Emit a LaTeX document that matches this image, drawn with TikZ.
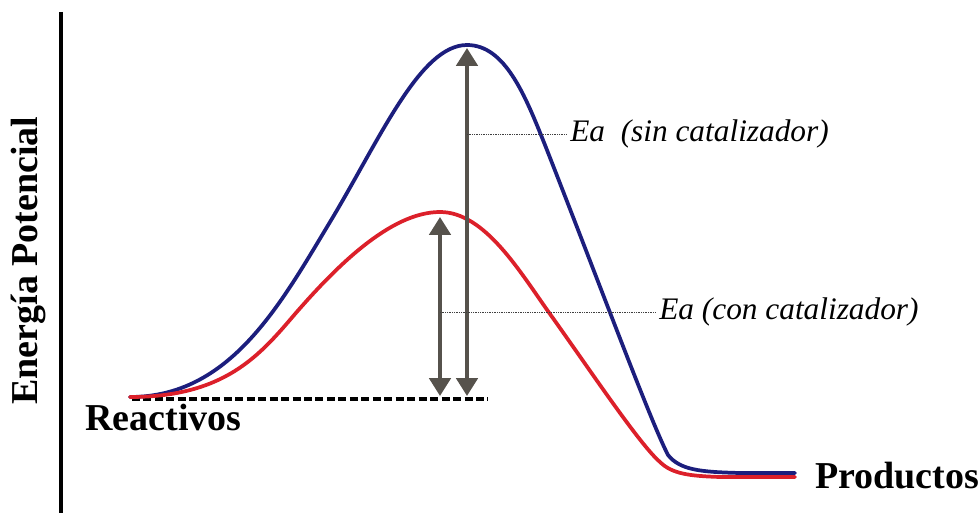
\documentclass[tikz,border=0pt]{standalone}
\usepackage{fontspec}
\setmainfont{Liberation Serif}
\usetikzlibrary{arrows.meta}
\definecolor{azulcurva}{RGB}{28,30,125}
\definecolor{rojocurva}{RGB}{220,32,42}
\definecolor{grisflecha}{RGB}{86,82,76}
\tikzset{
  curva/.style={line width=2.8pt, line join=round, line cap=round},
  flecha/.style={line width=3pt, grisflecha,
    {Triangle[width=16pt,length=13.5pt]}-{Triangle[width=16pt,length=13.5pt]}},
  guia/.style={line width=0.5pt, black!75, dash pattern=on 0.7pt off 0.6pt},
  rotulo/.style={font=\fontsize{28.5}{32}\selectfont\bfseries, inner sep=0pt},
  etiqueta/.style={font=\fontsize{23.5}{27}\selectfont\itshape, inner xsep=3pt, inner ysep=0pt},
}
\begin{document}
\begin{tikzpicture}[x=0.75pt,y=-0.75pt]
  \useasboundingbox (0,0) rectangle (978,513);
  % Eje
  \draw[line width=3.6pt] (61,12) -- (61,513);
  \node[rotulo, rotate=90, anchor=base west] (energia) at (37,405) {Energía Potencial};
  % Nivel de los reactivos
  \draw[line width=2.8pt, dash pattern=on 6pt off 2.6pt] (132,399) -- (488,399);
  \node[rotulo, anchor=base west] (reactivos) at (85,430) {Reactivos};
  \node[rotulo, anchor=base west] (productos) at (815,488) {Productos};
  % Curva sin catalizador
  \draw[curva, azulcurva] (130,397) .. controls (230,397) and (280,305) .. (330,222)
    .. controls (380,139) and (420,45) .. (467,45)
    .. controls (505,45) and (525,95) .. (545,145)
    .. controls (600,285) and (650,420) .. (668,455)
    .. controls (680,470) and (700,472) .. (740,473) -- (795,473);
  % Curva con catalizador
  \draw[curva, rojocurva] (130,397) .. controls (225,397) and (260,355) .. (295,314)
    .. controls (335,268) and (390,212) .. (440,212)
    .. controls (485,212) and (520,272) .. (550,314)
    .. controls (590,370) and (640,445) .. (660,462)
    .. controls (672,474) and (690,476) .. (720,477) -- (795,477);
  % Energias de activacion
  \coordinate (picoA) at (467,48);
  \coordinate (baseA) at (467,396);
  \coordinate (picoB) at (440,217);
  \coordinate (baseB) at (440,396);
  \draw[flecha] (baseA) -- (picoA);
  \draw[flecha] (baseB) -- (picoB);
  \coordinate (medioA) at (467,134);
  \coordinate (medioB) at (440,312);
  \node[etiqueta, anchor=west] (sincat) at (566,134) {Ea\ \ (sin catalizador)};
  \node[etiqueta, anchor=west] (concat) at (655,312) {Ea (con catalizador)};
  \draw[guia] (medioA) -- (sincat.west);
  \draw[guia] (medioB) -- (concat.west);
\end{tikzpicture}
\end{document}
